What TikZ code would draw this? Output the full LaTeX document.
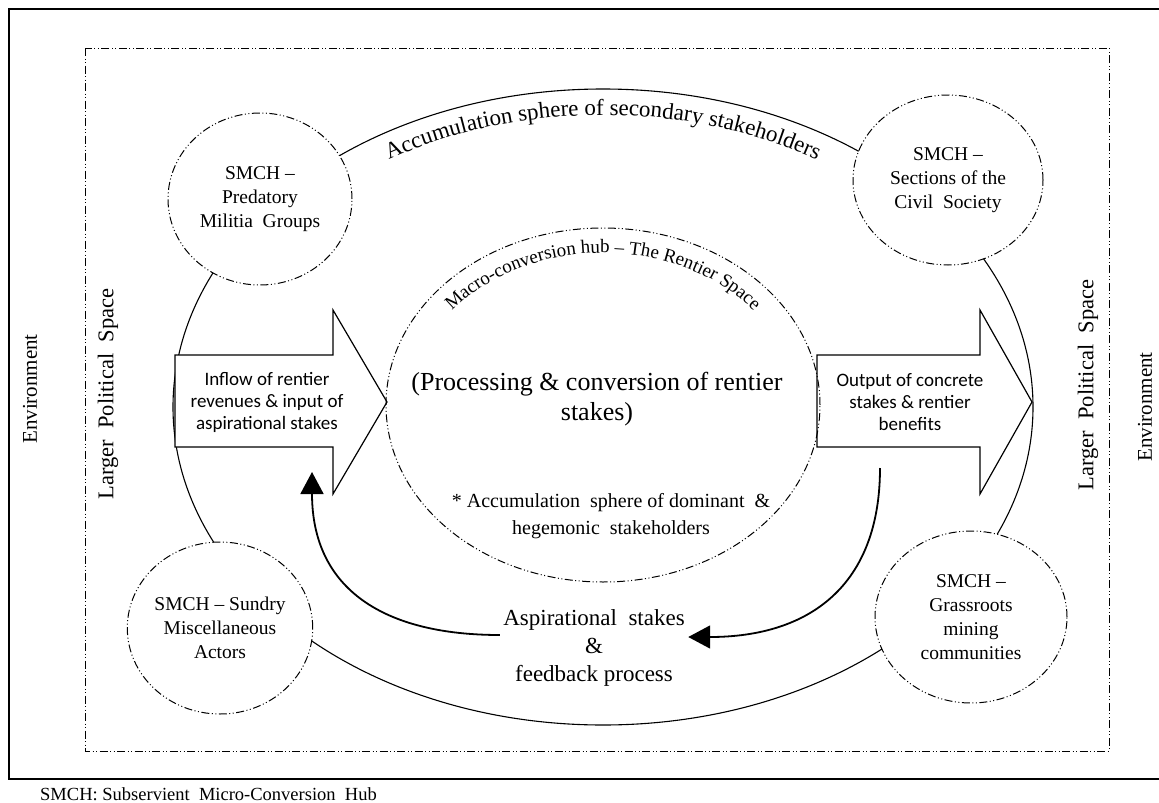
\documentclass[tikz,border=0pt]{standalone}
\usepackage{fontspec}
\setmainfont{Liberation Serif}
\newfontfamily\calfont{Carlito}
\usetikzlibrary{shapes.geometric,arrows.meta,decorations.text}

\begin{document}
\begin{tikzpicture}[x=1pt, y=-1pt,
		hubline/.style={dash pattern=on 8pt off 2.5pt on 1pt off 2.5pt on 1pt off 2.5pt},
		hub/.style={ellipse, draw, hubline, line width=1pt, fill=white, inner sep=0pt, align=center, font=\fontsize{19.5}{24}\selectfont},
		bigarrow/.style={draw, line width=1.2pt, fill=white},
		feedback/.style={line width=1.8pt, -{Triangle[length=22pt, width=23pt]}},
		sidelabel/.style={rotate=90, font=\fontsize{21}{25}\selectfont}]
		\useasboundingbox (0,0) rectangle (1159,803);
		\clip (0,0) rectangle (1159,803);
		
		% frames
		\draw[line width=1.2pt] (9,9) rectangle (1175,779);
		\draw[hubline, line width=1pt] (85,48) rectangle (1109,751);
		
		% outer sphere and the four hubs
		\node[draw, ellipse, line width=1.1pt, minimum width=860pt, minimum height=636pt] (sphere) at (603,407) {};
		\node[hub, minimum width=184pt, minimum height=172pt] (predatory) at (260,199) {SMCH --\\Predatory\\Militia\ \ Groups};
		\node[hub, minimum width=190pt, minimum height=170pt] (civil) at (948,180) {SMCH --\\Sections\ of\ the\\Civil\ \ Society};
		\node[hub, minimum width=180pt, minimum height=172pt] (sundry) at (220,628) {SMCH -- Sundry\\Miscellaneous\\Actors};
		\node[hub, minimum width=192pt, minimum height=172pt] (grassroots) at (971,617) {SMCH --\\Grassroots\\mining\\communities};
		
		% block arrows
		\draw[bigarrow] (175,355) -- (333,355) -- (333,310) -- (387,402) -- (333,494) -- (333,447) -- (175,447) -- cycle;
		\draw[bigarrow] (817,355) -- (980,355) -- (980,310) -- (1032,402) -- (980,494) -- (980,447) -- (817,447) -- cycle;
		\node[align=center, font=\calfont\fontsize{19}{22}\selectfont] (inflow) at (267,402) {Inflow of rentier\\revenues \& input of\\aspirational stakes};
		\node[align=center, font=\calfont\fontsize{19}{22}\selectfont] (output) at (910,402) {Output of concrete\\stakes \& rentier\\benefits};
		
		% the rentier space
		\node[draw, ellipse, hubline, line width=1pt, minimum width=434pt, minimum height=354pt] (rentier) at (603,405) {};
		\node[align=center, font=\fontsize{26}{30}\selectfont] (processing) at (597,399) {(Processing \& conversion of rentier\\stakes)};
		\node[align=center, font=\fontsize{20}{27}\selectfont] (dominant) at (611,516) {* Accumulation\ \ sphere\ of dominant\ \ \&\\hegemonic\ \ stakeholders};
		
		% curved titles
		\path[decorate, decoration={text along path, text align={center},
			text={|\fontsize{23}{28}\selectfont|Accumulation sphere of secondary stakeholders}}]
			(603,407) ++(215:402 and 292) arc[start angle=215, end angle=325, x radius=402, y radius=292];
		\path[decorate, decoration={text along path, text align={center},
			text={|\fontsize{19}{23}\selectfont|Macro-conversion hub – The Rentier Space}}]
			(603,405) ++(200:192 and 152) arc[start angle=200, end angle=340, x radius=192, y radius=152];
		
		% feedback loop
		\node[align=center, font=\fontsize{23}{28}\selectfont] (aspire) at (594,648) {Aspirational\ \ stakes\\\&\\feedback process};
		\coordinate (outfoot) at (880,468);
		\coordinate (infoot) at (312,472);
		\draw[feedback] (outfoot) .. controls (880,585) and (810,637) .. ([yshift=11pt]aspire.east);
		\draw[feedback] ([yshift=13pt]aspire.west) .. controls (385,635) and (312,590) .. (infoot);
		
		% side labels
		\node[sidelabel] (envleft) at (30,389) {Environment};
		\node[sidelabel] (envright) at (1145,407) {Environment};
		\node[sidelabel, font=\fontsize{22.5}{26}\selectfont] (lpsleft) at (108,394) {Larger\ \ Political\ \ Space};
		\node[sidelabel, font=\fontsize{22.5}{26}\selectfont] (lpsright) at (1088,385) {Larger\ \ Political\ \ Space};
		
		\node[anchor=base west, font=\fontsize{18.5}{22}\selectfont, inner sep=0pt] (legend) at (40,800) {SMCH: Subservient\ \ Micro-Conversion\ \ Hub};
	\end{tikzpicture}
\end{document}
